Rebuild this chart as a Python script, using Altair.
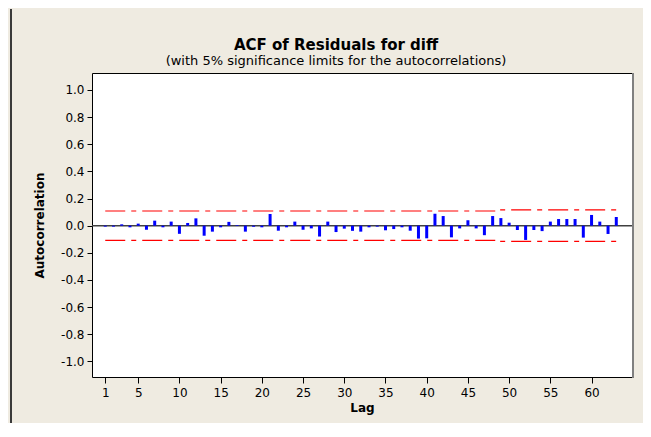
import altair as alt
import pandas as pd

# ---- data ----
lags = list(range(1, 64))
acf = [
    -0.007, -0.007, 0.010, -0.012, 0.015, -0.030, 0.037, -0.012, 0.030, -0.060,
    0.020, 0.054, -0.074, -0.044, -0.012, 0.028, 0.005, -0.044, -0.008, -0.012,
    0.086, -0.037, -0.012, 0.030, -0.030, -0.020, -0.080, 0.030, -0.047, -0.022,
    -0.038, -0.044, -0.012, -0.007, -0.034, -0.025, -0.012, -0.037, -0.095, -0.093,
    0.088, 0.071, -0.086, -0.020, 0.040, -0.020, -0.070, 0.071, 0.056, 0.022,
    -0.032, -0.105, -0.032, -0.040, 0.030, 0.049, 0.049, 0.049, -0.088, 0.079,
    0.030, -0.061, 0.064,
]
x_ticks = [1, 5, 10, 15, 20, 25, 30, 35, 40, 45, 50, 55, 60]
y_ticks = [-1.0, -0.8, -0.6, -0.4, -0.2, 0.0, 0.2, 0.4, 0.6, 0.8, 1.0]
limit_lags = [1, 48.5, 63]
limit_upper = [0.108, 0.116, 0.116]
limit_lower = [-0.108, -0.116, -0.116]

W, H = 540, 304
FONT = "DejaVu Sans"

acf_df = pd.DataFrame({"Lag": lags, "ACF": acf})
lim_df = pd.DataFrame({
    "Lag": limit_lags + limit_lags,
    "Limit": limit_upper + limit_lower,
    "Side": ["upper"] * len(limit_lags) + ["lower"] * len(limit_lags),
})
zero_df = pd.DataFrame({"z": [0.0]})

x_scale = alt.Scale(domain=[0, 64.3], nice=False, zero=False)
y_scale = alt.Scale(domain=[-1.115, 1.125], nice=False)

x_axis = alt.Axis(values=x_ticks, title="Lag", labelPadding=4, titlePadding=4,
                  tickSize=6, labelFlush=False, labelOverlap=False)
y_axis = alt.Axis(values=y_ticks, title="Autocorrelation", labelPadding=3,
                  titlePadding=14, tickSize=5, labelOverlap=False, labelFlush=False,
                  labelExpr="(datum.value < 0 ? '-' : '') + format(abs(datum.value), '.1f')")

X_ENC = lambda field: alt.X(field, scale=x_scale, axis=x_axis)
Y_ENC = lambda field: alt.Y(field, scale=y_scale, axis=y_axis)

limits = alt.Chart(lim_df).mark_line(
    color="#FF0000", strokeWidth=1.2, strokeDash=[20, 6, 5, 6], interpolate="step-after"
).encode(
    x=X_ENC("Lag:Q"),
    y=Y_ENC("Limit:Q"),
    detail="Side:N",
)

zero_line = alt.Chart(zero_df).mark_rule(color="#404040", strokeWidth=1.5).encode(
    y=Y_ENC("z:Q")
)

bars = alt.Chart(acf_df).mark_bar(size=3, color="#0000FF").encode(
    x=X_ENC("Lag:Q"),
    y=Y_ENC("ACF:Q"),
    y2=alt.datum(0),
)

# decorative frame pieces
left_border = alt.Chart(zero_df).mark_rule(color="#3a3a3a", strokeWidth=2).encode(
    x=alt.value(-81), x2=alt.value(-81), y=alt.value(-64), y2=alt.value(H + 46)
)
right_shadow = alt.Chart(zero_df).mark_rule(color="#808080", strokeWidth=2).encode(
    x=alt.value(W + 1), x2=alt.value(W + 1), y=alt.value(0), y2=alt.value(H + 1)
)

chart = alt.layer(limits, zero_line, bars, right_shadow, left_border).properties(
    width=W,
    height=H,
    padding={"left": 84, "top": 65, "right": 11, "bottom": 46},
    autosize=alt.AutoSizeParams(type="none"),
    background="#EFEBE1",
    title=alt.TitleParams(
        text="ACF of Residuals for diff",
        subtitle="(with 5% significance limits for the autocorrelations)",
        font=FONT, fontSize=15, fontWeight="bold", color="black",
        subtitleFont=FONT, subtitleFontSize=13, subtitleColor="black",
        anchor="middle", frame="group", dx=-26, offset=7, dy=67, subtitlePadding=2,
    ),
).configure_view(
    fill="white", stroke="black", strokeWidth=1
).configure_axis(
    labelFont=FONT, labelFontSize=12, labelColor="black",
    titleFont=FONT, titleFontSize=12, titleFontWeight="bold", titleColor="black",
    tickColor="black", tickWidth=1, domain=False, grid=False,
)

chart.save("out.html", embed_options={"renderer": "svg", "actions": False})
